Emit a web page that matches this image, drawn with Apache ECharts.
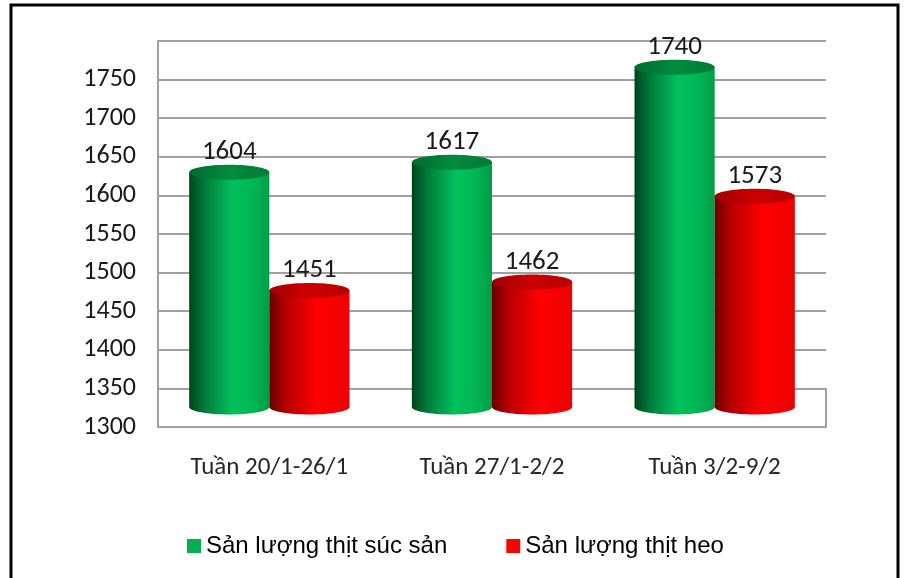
<!DOCTYPE html>
<html lang="vi">
<head>
    <meta charset="utf-8">
    <title>Sản lượng thịt</title>
    <script src="https://cdn.jsdelivr.net/npm/echarts@6/dist/echarts.min.js"></script>
    <style>
        html, body { margin: 0; padding: 0; background: #fff; }
        #Chart { width: 904px; height: 578px; }
    </style>
</head>
<body>
    <div id="Chart"></div>
    <script type="text/javascript">
        var categories = ['Tuần 20/1-26/1', 'Tuần 27/1-2/2', 'Tuần 3/2-9/2'];
        var sucSan = [1604, 1617, 1740];
        var heo = [1451, 1462, 1573];
        var yTicks = { min: 1300, max: 1800, interval: 50 };

        var labelFont = 'Carlito, Lato, "Open Sans", sans-serif';

        var greenBody = new echarts.graphic.LinearGradient(0, 0, 1, 0, [
            { offset: 0, color: '#00431b' },
            { offset: 0.18, color: '#00783a' },
            { offset: 0.55, color: '#00c25c' },
            { offset: 0.82, color: '#00b353' },
            { offset: 1, color: '#009c47' }
        ]);
        var redBody = new echarts.graphic.LinearGradient(0, 0, 1, 0, [
            { offset: 0, color: '#680000' },
            { offset: 0.2, color: '#b50000' },
            { offset: 0.6, color: '#ff0000' },
            { offset: 1, color: '#ee0000' }
        ]);
        var greenTop = new echarts.graphic.LinearGradient(0, 0, 1, 0, [
            { offset: 0, color: '#006a30' },
            { offset: 0.5, color: '#008c3e' },
            { offset: 1, color: '#007a36' }
        ]);
        var redTop = new echarts.graphic.LinearGradient(0, 0, 1, 0, [
            { offset: 0, color: '#a00000' },
            { offset: 0.5, color: '#cc0000' },
            { offset: 1, color: '#b80000' }
        ]);

        // draws one cylinder, lifted a bit like the old 3d excel chart
        function cylinder(params, api) {
            var cat = api.value(0);
            var v = api.value(1);
            var top = api.coord([cat, v]);
            var base = api.coord([cat, yTicks.min]);
            var band = api.size([1, 0])[0];
            var bw = band * 0.36;
            var green = params.seriesIndex === 0;
            var x0 = green ? top[0] - bw : top[0];
            var lift = 20, ry = 7.5;
            var yt = top[1] - lift, yb = base[1] - lift;
            var body = green ? greenBody : redBody;
            return {
                type: 'group',
                children: [
                    { type: 'ellipse', shape: { cx: x0 + bw / 2, cy: yb, rx: bw / 2, ry: ry }, style: { fill: body } },
                    { type: 'rect', shape: { x: x0, y: yt, width: bw, height: yb - yt }, style: { fill: body } },
                    { type: 'ellipse', shape: { cx: x0 + bw / 2, cy: yt, rx: bw / 2, ry: ry }, style: { fill: green ? greenTop : redTop } },
                    {
                        type: 'text',
                        style: {
                            text: String(v), x: x0 + bw / 2, y: yt - ry + 1,
                            align: 'center', verticalAlign: 'bottom',
                            font: '27px ' + labelFont, fill: '#1a1a1a'
                        }
                    }
                ]
            };
        }

        var chart = echarts.init(document.getElementById('Chart'), null, { renderer: 'canvas' });

        var option = {
            animation: false,
            backgroundColor: '#fff',
            graphic: [
                {
                    type: 'rect',
                    shape: { x: 11, y: 5, width: 887, height: 600 },
                    style: { fill: 'none', stroke: '#000', lineWidth: 3 },
                    silent: true
                },
                {
                    type: 'line',
                    shape: { x1: 826, y1: 388, x2: 826, y2: 427 },
                    style: { stroke: '#a0a0a0', lineWidth: 2 },
                    silent: true
                }
            ],
            grid: { left: 158, top: 41, right: 78, bottom: 151 },
            legend: {
                left: 182,
                top: 529,
                itemWidth: 14,
                itemHeight: 14,
                itemGap: 59,
                icon: 'rect',
                textStyle: { fontFamily: '"Liberation Sans", Arial, sans-serif', fontSize: 24, color: '#000' },
                data: ['Sản lượng thịt súc sản', 'Sản lượng thịt heo']
            },
            xAxis: {
                type: 'category',
                data: categories,
                axisLine: { lineStyle: { color: '#a0a0a0', width: 2 } },
                axisTick: { show: false },
                axisLabel: { margin: 28, fontFamily: labelFont, fontSize: 25, color: '#262626' }
            },
            yAxis: {
                type: 'value',
                min: yTicks.min,
                max: yTicks.max,
                interval: yTicks.interval,
                axisLine: { show: true, lineStyle: { color: '#a0a0a0', width: 2 } },
                axisTick: { show: false },
                splitLine: { lineStyle: { color: '#a0a0a0', width: 2 } },
                axisLabel: {
                    margin: 22,
                    fontFamily: labelFont, fontSize: 26, color: '#1a1a1a',
                    formatter: function (v) { return v === yTicks.max ? '' : String(v); }
                }
            },
            series: [
                {
                    name: 'Sản lượng thịt súc sản',
                    type: 'custom',
                    itemStyle: { color: '#00b050' },
                    renderItem: cylinder,
                    encode: { x: 0, y: 1 },
                    data: sucSan.map(function (v, i) { return [i, v]; })
                },
                {
                    name: 'Sản lượng thịt heo',
                    type: 'custom',
                    itemStyle: { color: '#ff0000' },
                    renderItem: cylinder,
                    encode: { x: 0, y: 1 },
                    data: heo.map(function (v, i) { return [i, v]; })
                }
            ]
        };

        chart.setOption(option);
    </script>
</body>
</html>
